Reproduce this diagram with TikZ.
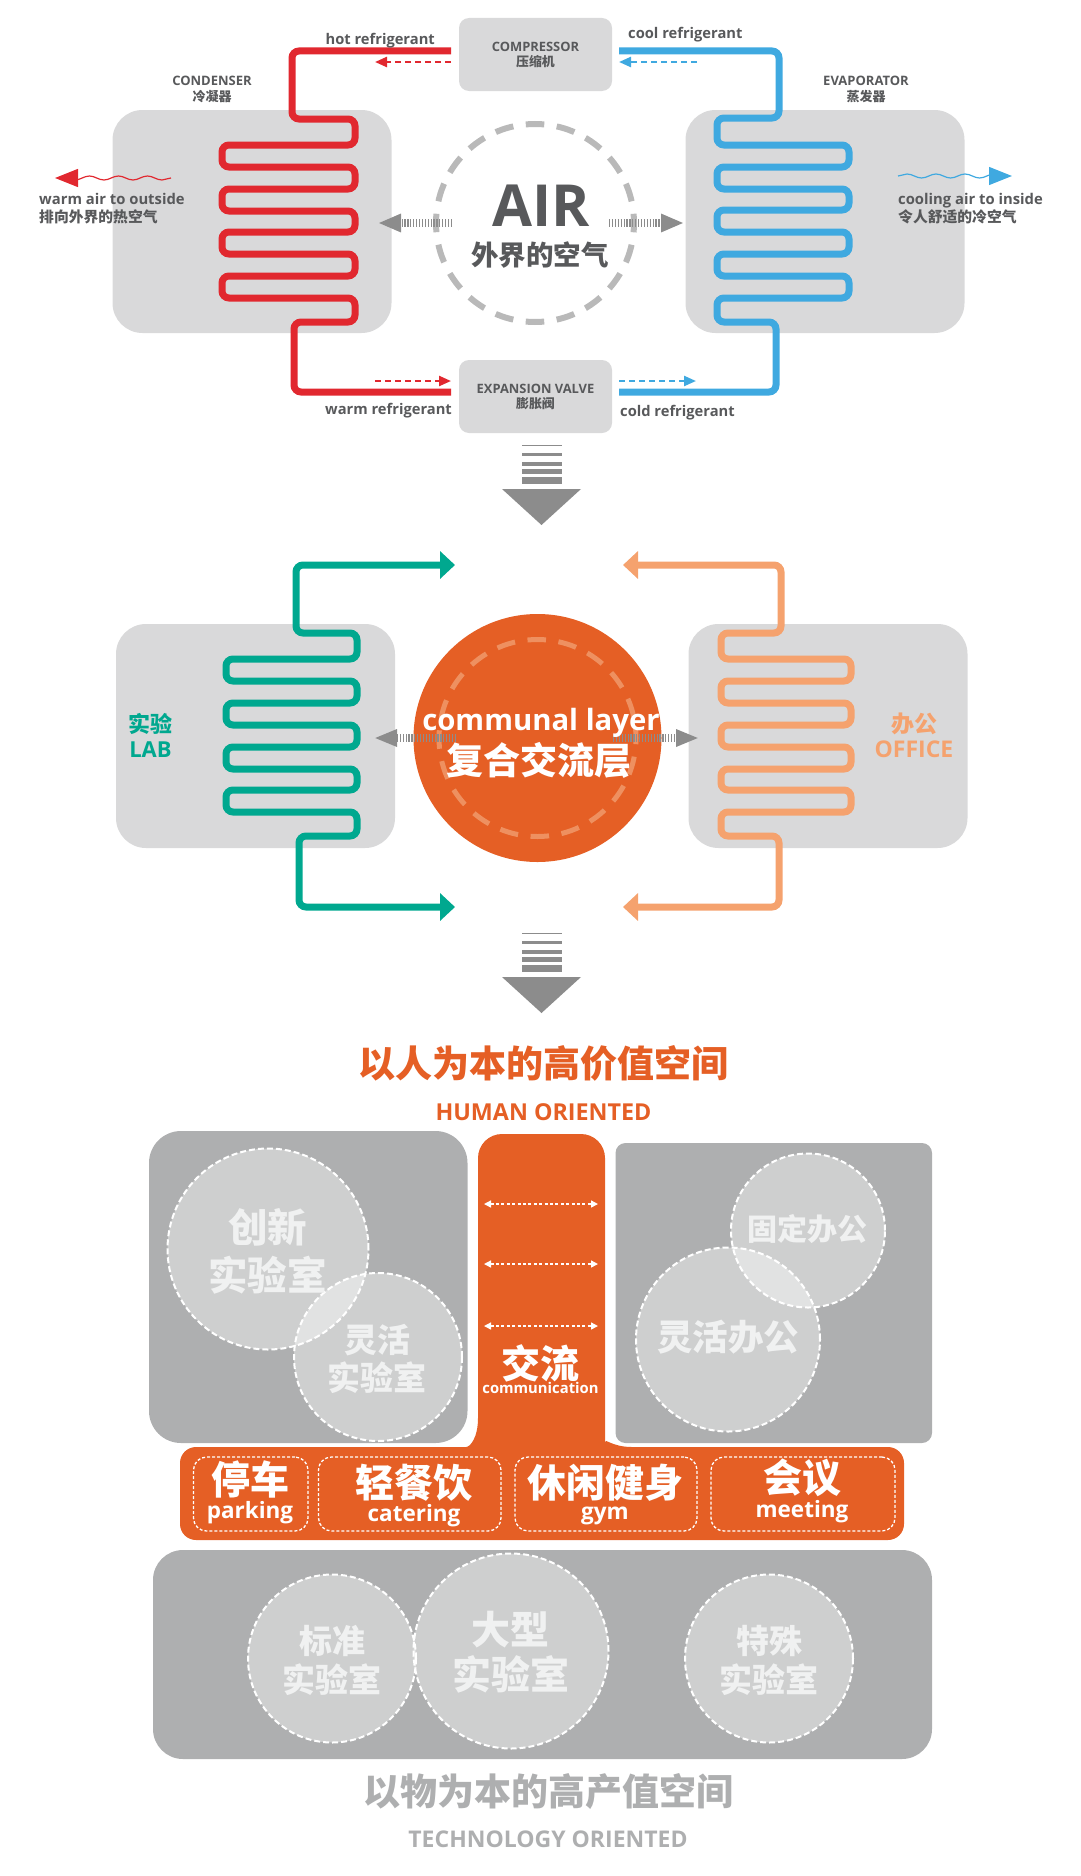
\documentclass[tikz,border=0pt]{standalone}
\usepackage{fontspec}
\setmainfont{Open Sans}
\newfontfamily\cjk{Noto Sans CJK SC}
\usetikzlibrary{arrows.meta, decorations.pathmorphing}

\definecolor{boxgray}{HTML}{D9D9DA}
\definecolor{zonegray}{HTML}{AEAFB0}
\definecolor{inkgray}{HTML}{58595B}
\definecolor{ringgray}{HTML}{B9B9B9}
\definecolor{flowgray}{HTML}{8C8C8C}
\definecolor{hotred}{HTML}{E1282F}
\definecolor{coolblue}{HTML}{3FA9E0}
\definecolor{labgreen}{HTML}{00A88F}
\definecolor{officepeach}{HTML}{F5A26E}
\definecolor{commorange}{HTML}{E55F25}
\definecolor{commring}{HTML}{EE9060}
\definecolor{softwhite}{HTML}{F0F1F1}

\newcommand{\fsz}[2]{\fontsize{#1}{#2}\selectfont}

\begin{document}
\begin{tikzpicture}[
    x=1pt, y=-1pt,
    pipe/.style={line width=7pt, rounded corners=7pt},
    bigtip/.style={{Triangle[length=15pt, width=27pt]}-{Triangle[length=15pt, width=27pt]}},
    dashpipe/.style={line width=2.3pt, dash pattern=on 6pt off 4pt, -{Triangle[length=12pt, width=10pt]}},
    wave/.style={line width=1.2pt, decorate,
      decoration={snake, amplitude=2pt, segment length=29pt, post=lineto, post length=4pt},
      -{Triangle[length=23pt, width=18pt]}},
    airflow/.style={draw=flowgray, line width=8pt, dash pattern=on 1.2pt off 1.7pt,
      -{Triangle[length=23pt, width=17pt]}},
    panel/.style={fill=boxgray, rounded corners=30pt, minimum width=279pt, minimum height=223pt},
    device/.style={fill=boxgray, rounded corners=10pt, minimum width=153pt, minimum height=73pt,
      inner sep=0pt, align=center, text=inkgray, font=\bfseries\fsz{12.9}{16}},
    partlabel/.style={align=center, text=inkgray, inner sep=0pt, font=\bfseries\fsz{13}{16}},
    reflabel/.style={text=inkgray, inner sep=0pt, font=\bfseries\fsz{14.7}{18}},
    airlabel/.style={align=left, text=inkgray, inner sep=0pt, font=\bfseries\fsz{14.8}{18}},
    ring/.style={circle, line width=6pt, dash pattern=on 18.5pt off 12.6pt, dash phase=9.25pt,
      minimum size=198pt, inner sep=0pt},
    zone/.style={fill=zonegray},
    bubble/.style={circle, draw=white, fill=white, fill opacity=.4, text opacity=1,
      line width=2pt, dash pattern=on 6pt off 3pt, inner sep=0pt},
    bubbletext/.style 2 args={align=center, text=softwhite, inner sep=0pt, font=\cjk\bfseries\fsz{#1}{#2}},
    facility/.style={draw=white, line width=1.3pt, dash pattern=on 3pt off 2pt,
      rounded corners=13pt, inner sep=0pt, minimum height=74pt},
    facilitytext/.style={align=center, text=white, inner sep=0pt, font=\cjk\bfseries\fsz{39}{39}},
    facilityname/.style={text=white, inner sep=0pt, font=\bfseries\fsz{22.5}{24}},
    exchange/.style={white, line width=1.4pt, dash pattern=on 3pt off 2.4pt,
      {Triangle[length=7pt, width=7pt]}-{Triangle[length=7pt, width=7pt]}},
]
  \useasboundingbox (0,0) rectangle (1080,1876);

  % refrigerant cycle
  \node[panel] (condenser) at (252,221.5) {};
  \node[panel] (evaporator) at (825,221.5) {};
  \node[device] (compressor) at (535.5,54.5) {\raisebox{-2pt}{COMPRESSOR}\\[1pt]{\cjk 压缩机}};
  \node[device] (valve) at (535.5,396.5) {\raisebox{-1pt}{EXPANSION VALVE}\\{\cjk 膨胀阀}};
  \node[partlabel] (condenserlabel) at (212,89.5) {CONDENSER\\{\cjk 冷凝器}};
  \node[partlabel] (evaporatorlabel) at (866,89.5) {EVAPORATOR\\{\cjk 蒸发器}};

  \coordinate (hotend) at (451,51);
  \coordinate (warmend) at (451,392);
  \coordinate (coolend) at (619,51);
  \coordinate (coldend) at (619,392);
  \draw[pipe, hotred] (hotend) -- (292,51) -- (292,119) -- (355,119) -- (355,145)
    -- (222,145) -- (222,167) -- (355,167) -- (355,189) -- (222,189) -- (222,211)
    -- (355,211) -- (355,232) -- (222,232) -- (222,254) -- (355,254) -- (355,276)
    -- (222,276) -- (222,298) -- (355,298) -- (355,322) -- (294,322) -- (294,392)
    -- (warmend);
  \draw[pipe, coolblue] (coolend) -- (779,51) -- (779,118) -- (717,118) -- (717,145)
    -- (849,145) -- (849,167) -- (717,167) -- (717,189) -- (849,189) -- (849,210)
    -- (717,210) -- (717,232) -- (849,232) -- (849,254) -- (717,254) -- (717,276)
    -- (849,276) -- (849,298) -- (717,298) -- (717,322) -- (776,322) -- (776,392)
    -- (coldend);

  \coordinate (hotdashA) at (451,62);
  \coordinate (hotdashB) at (375,62);
  \coordinate (warmdashA) at (375,381);
  \coordinate (warmdashB) at (451,381);
  \coordinate (cooldashA) at (697,62);
  \coordinate (cooldashB) at (619,62);
  \coordinate (colddashA) at (619,381);
  \coordinate (colddashB) at (696,381);
  \draw[dashpipe, hotred] (hotdashA) -- (hotdashB);
  \draw[dashpipe, hotred] (warmdashA) -- (warmdashB);
  \draw[dashpipe, coolblue] (cooldashA) -- (cooldashB);
  \draw[dashpipe, coolblue] (colddashA) -- (colddashB);

  \node[reflabel, anchor=east] (hotlabel) at (435,41) {hot refrigerant};
  \node[reflabel, anchor=east] (warmlabel) at (452,411) {warm refrigerant};
  \node[reflabel, anchor=west] (coollabel) at (628,35) {cool refrigerant};
  \node[reflabel, anchor=west] (coldlabel) at (620,413) {cold refrigerant};

  \coordinate (warmwaveA) at (171,178);
  \coordinate (warmwaveB) at (55,178);
  \coordinate (coolwaveA) at (898,176);
  \coordinate (coolwaveB) at (1012,176);
  \draw[wave, hotred] (warmwaveA) -- (warmwaveB);
  \draw[wave, coolblue] (coolwaveA) -- (coolwaveB);
  \node[airlabel, anchor=north west] (warmairlabel) at (39,193) {warm air to outside\\{\cjk 排向外界的热空气}};
  \node[airlabel, anchor=north west] (coolairlabel) at (898,193) {cooling air to inside\\{\cjk 令人舒适的冷空气}};

  % outside air
  \node[ring, draw=ringgray] (airring) at (535,223) {};
  \node[text=inkgray, inner sep=0pt, font=\bfseries\fsz{58}{58}] (airlabel) at (541,206) {AIR};
  \node[text=inkgray, inner sep=0pt, font=\cjk\bfseries\fsz{27.5}{27.5}] (aircn) at (540,255) {外界的空气};
  \coordinate (airwest) at (452,223);
  \coordinate (aireast) at (609,223);
  \coordinate (condenserin) at (378,223);
  \coordinate (evaporatorin) at (684,223);
  \draw[airflow] (airwest) -- (condenserin);
  \draw[airflow] (aireast) -- (evaporatorin);

  % down arrows
  \foreach \y in {0,488} {
    \foreach \t/\b in {445.2/446,453/456,461.5/466,469/474,477/484}
      \fill[flowgray] (522,{\y+\t}) rectangle (562,{\y+\b});
    \fill[flowgray] (502,{\y+489}) -- (581,{\y+489}) -- (541.5,{\y+525}) -- cycle;
  }

  % communal layer
  \node[panel, minimum height=224pt] (labpanel) at (255.5,736) {};
  \node[panel, minimum height=224pt] (officepanel) at (828,736) {};
  \coordinate (labtop) at (455,565);
  \coordinate (labbottom) at (455,907);
  \coordinate (officetop) at (623,565);
  \coordinate (officebottom) at (623,907);
  \draw[pipe, labgreen, bigtip] (labtop) -- (296,565) -- (296,633) -- (357,633) -- (357,659) -- (226,659) -- (226,681)
    -- (357,681) -- (357,703) -- (226,703) -- (226,725) -- (357,725) -- (357,747)
    -- (226,747) -- (226,769) -- (357,769) -- (357,790) -- (226,790) -- (226,812)
    -- (357,812) -- (357,836) -- (299,836) -- (299,907) -- (labbottom);
  \draw[pipe, officepeach, bigtip] (officetop) -- (781,565) -- (781,633) -- (721,633) -- (721,659) -- (851,659) -- (851,681)
    -- (721,681) -- (721,703) -- (851,703) -- (851,725) -- (721,725) -- (721,747)
    -- (851,747) -- (851,769) -- (721,769) -- (721,790) -- (851,790) -- (851,812)
    -- (721,812) -- (721,836) -- (779,836) -- (779,907) -- (officebottom);

  \node[circle, fill=commorange, minimum size=248pt, inner sep=0pt] (commcircle) at (537.5,738) {};
  \node[ring, draw=commring, line width=5pt, minimum size=197pt] (commdash) at (537.5,738) {};
  \coordinate (commwest) at (456,738);
  \coordinate (commeast) at (613,738);
  \coordinate (labin) at (374,738);
  \coordinate (officein) at (699,738);
  \draw[airflow, -{Triangle[length=23pt, width=16pt]}] (commwest) -- (labin);
  \draw[airflow, -{Triangle[length=23pt, width=16pt]}] (commeast) -- (officein);
  \node[text=white, inner sep=0pt, font=\bfseries\fsz{29.3}{30}] (commlabel) at (541,723) {communal layer};
  \node[text=white, inner sep=0pt, font=\cjk\bfseries\fsz{37}{37}] (commcn) at (538.5,760) {复合交流层};
  \node[align=center, text=labgreen, inner sep=0pt, font=\bfseries\fsz{22}{25}] (lablabel) at (150.5,735.5) {{\cjk 实验}\\LAB};
  \node[align=center, text=officepeach, inner sep=0pt, font=\bfseries\fsz{23}{25}] (officelabel) at (914,735.5) {{\cjk 办公}\\OFFICE};

  % space diagram
  \node[text=commorange, inner sep=0pt, font=\cjk\bfseries\fsz{37}{38}] (humantitle) at (543,1063) {以人为本的高价值空间};
  \node[text=commorange, inner sep=0pt, font=\bfseries\fsz{23.3}{24}] (humanlabel) at (543.5,1112) {HUMAN ORIENTED};

  \path[zone, rounded corners=32pt] (149,1131) rectangle (467.5,1443);
  \path[zone, rounded corners=10pt] (615.5,1143) rectangle (932,1443);
  \fill[commorange] [rounded corners=24pt] (478,1418) -- (478,1134) -- (605,1134) -- (605,1418) [sharp corners]
    .. controls (605,1438) and (612,1447) .. (632,1447) [rounded corners=16pt] -- (904,1447) -- (904,1540)
    -- (180,1540) -- (180,1447) -- (450,1447) [sharp corners]
    .. controls (470,1447) and (478,1438) .. (478,1418) -- cycle;

  \foreach \y [count=\i] in {1204,1264,1326} {
    \coordinate (talkwest\i) at (484,\y);
    \coordinate (talkeast\i) at (598,\y);
    \draw[exchange] (talkwest\i) -- (talkeast\i);
  }
  \node[text=white, inner sep=0pt, font=\cjk\bfseries\fsz{39}{39}] (talkcn) at (540.5,1363) {交流};
  \node[text=white, inner sep=0pt, font=\bfseries\fsz{14.8}{16}] (talklabel) at (540.5,1388) {communication};

  \node[bubble, minimum size=201pt] (innolab) at (268,1249) {};
  \node[bubble, minimum size=168pt] (flexlab) at (378,1357) {};
  \node[bubble, minimum size=154pt] (fixedoffice) at (808,1230.5) {};
  \node[bubble, minimum size=184pt] (flexoffice) at (728,1339.5) {};
  \node[bubbletext={39.5}{48}] (innotext) at (267.5,1251) {创新\\实验室};
  \node[bubbletext={33}{38}] (flexlabtext) at (377,1359) {灵活\\实验室};
  \node[bubbletext={30}{30}] (fixedtext) at (807,1229) {固定办公};
  \node[bubbletext={35.5}{36}] (flexofficetext) at (728,1337) {灵活办公};

  \node[facility, minimum width=114.5pt] (parkingbox) at (250.75,1494) {};
  \node[facility, minimum width=182.5pt] (cateringbox) at (409.75,1494) {};
  \node[facility, minimum width=182pt] (gymbox) at (606,1494) {};
  \node[facility, minimum width=184pt] (meetingbox) at (803,1494) {};
  \node[facilitytext] (parkingcn) at (250,1479) {停车};
  \node[facilitytext] (cateringcn) at (414,1483) {轻餐饮};
  \node[facilitytext] (gymcn) at (605,1483) {休闲健身};
  \node[facilitytext] (meetingcn) at (802,1478) {会议};
  \node[facilityname] (parkinglabel) at (250,1513) {parking};
  \node[facilityname] (cateringlabel) at (414,1516) {catering};
  \node[facilityname] (gymlabel) at (605,1516) {gym};
  \node[facilityname] (meetinglabel) at (802,1512) {meeting};

  \path[zone, rounded corners=30pt] (153,1550) rectangle (932,1759);
  \node[bubble, minimum size=168pt] (stdlab) at (332,1658.5) {};
  \node[bubble, minimum size=195pt] (biglab) at (511,1651) {};
  \node[bubble, minimum size=168pt] (speclab) at (769,1658.5) {};
  \node[bubbletext={33}{39}] (stdtext) at (332,1660.5) {标准\\实验室};
  \node[bubbletext={39}{45}] (bigtext) at (510.5,1652.5) {大型\\实验室};
  \node[bubbletext={33}{39}] (spectext) at (769,1660.5) {特殊\\实验室};

  \node[text=zonegray, inner sep=0pt, font=\cjk\bfseries\fsz{37}{38}] (techtitle) at (548,1791) {以物为本的高产值空间};
  \node[text=zonegray, inner sep=0pt, font=\bfseries\fsz{23}{24}] (techlabel) at (548,1839) {TECHNOLOGY ORIENTED};
\end{tikzpicture}
\end{document}
